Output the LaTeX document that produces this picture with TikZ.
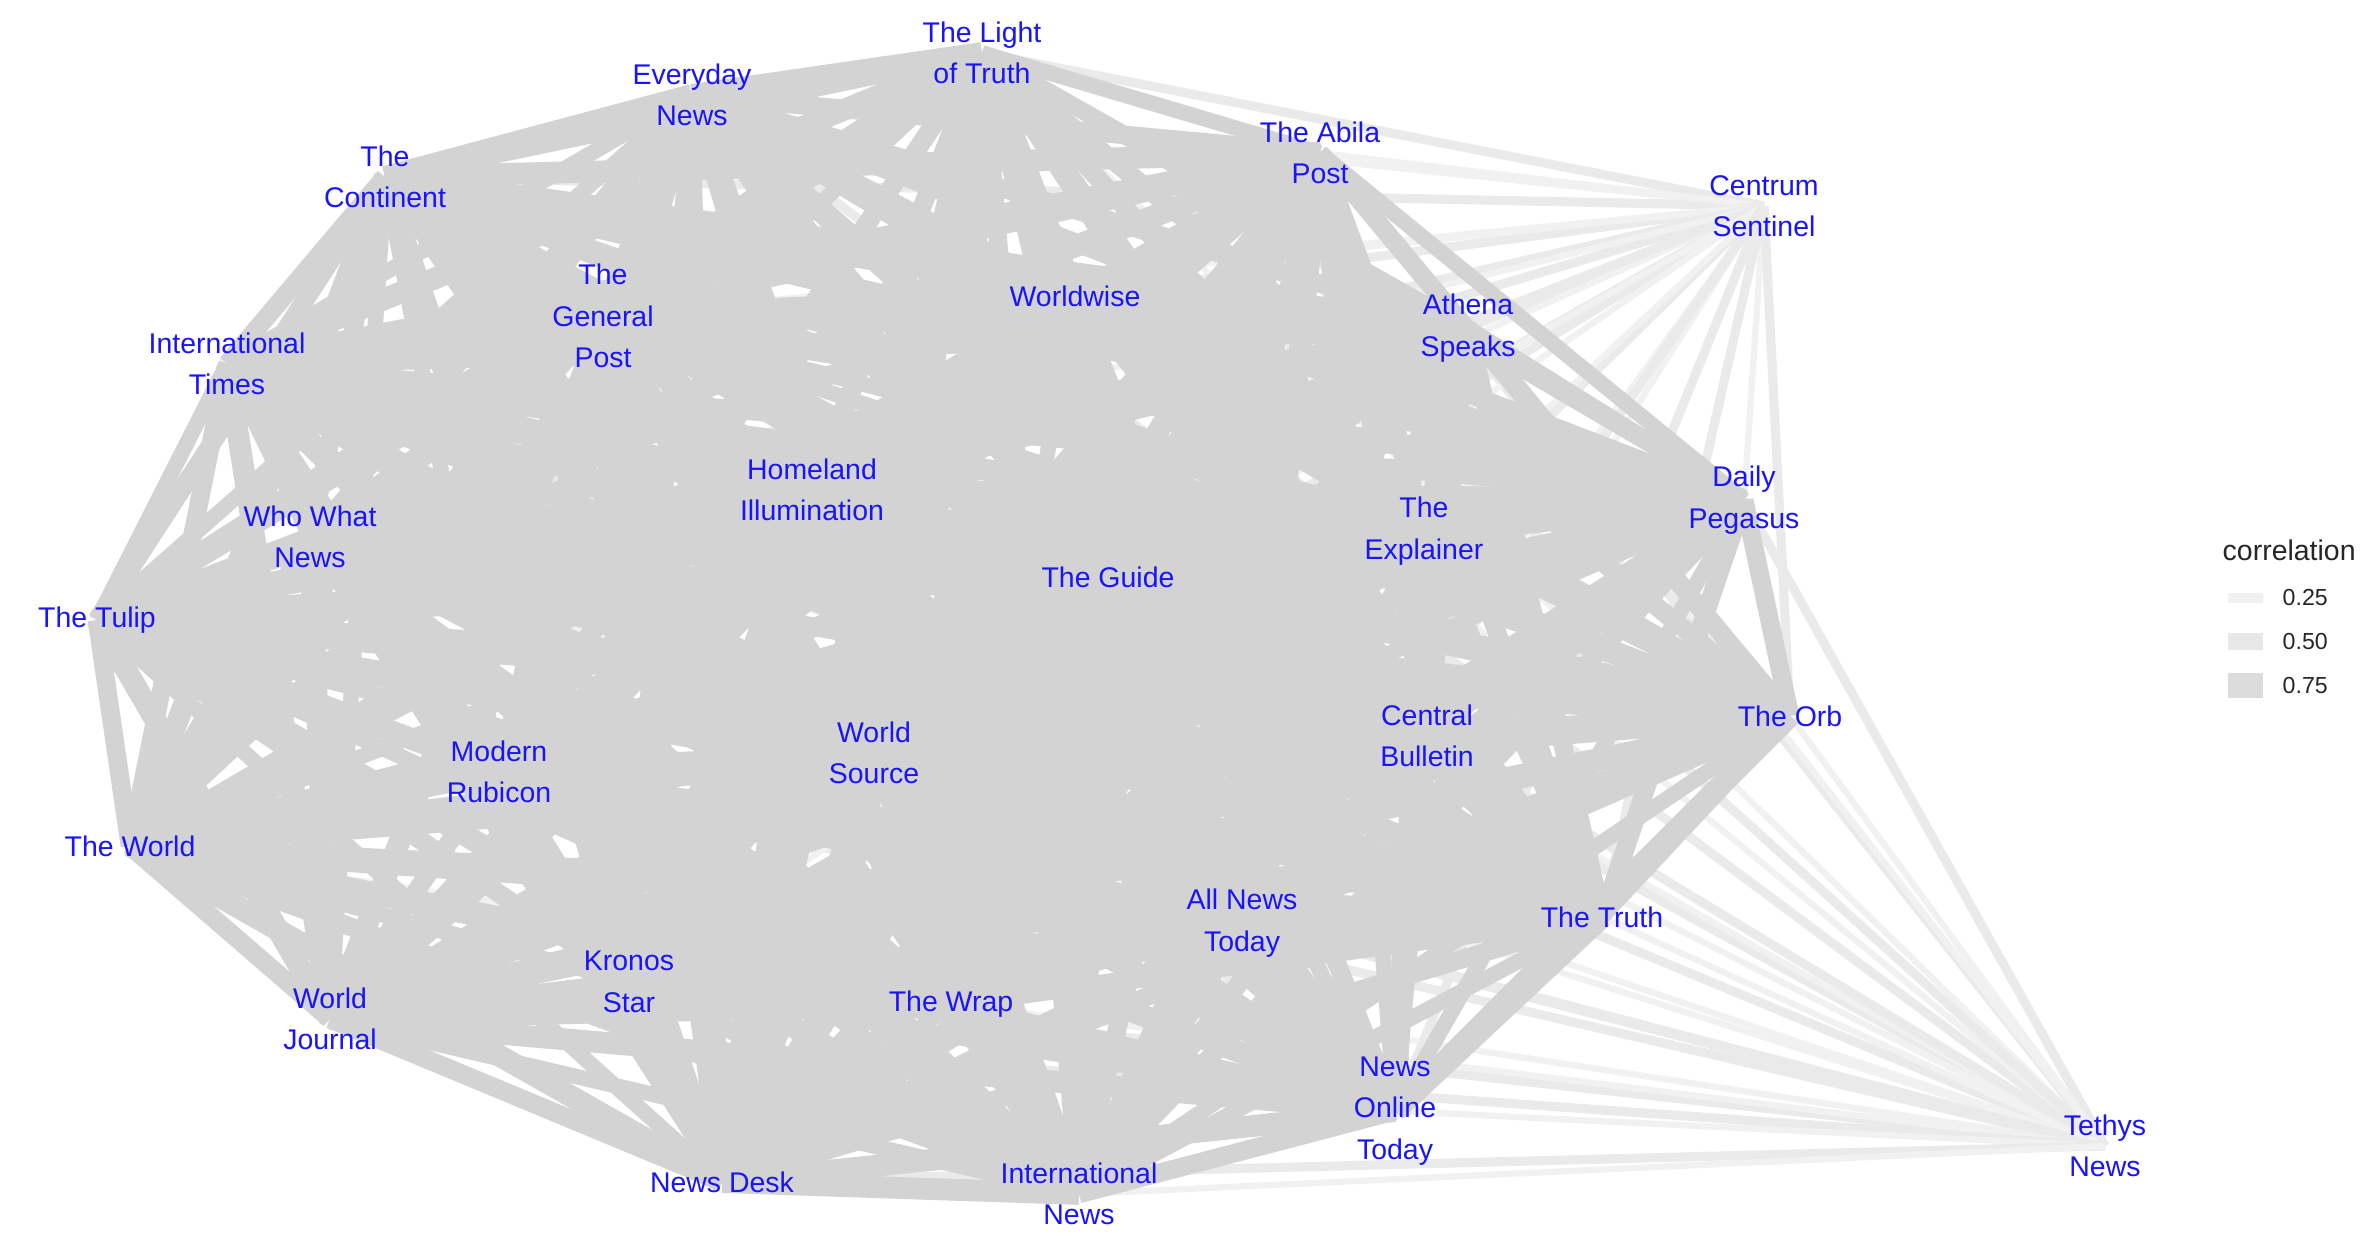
\documentclass[tikz,border=0pt]{standalone}
\usepackage{fontspec}
\setmainfont{Liberation Sans}
\usetikzlibrary{backgrounds}

\definecolor{edgegrey}{RGB}{211,211,211}
\definecolor{edgepale}{RGB}{234,234,234}
\definecolor{edgefaint}{RGB}{241,241,241}
\definecolor{keymid}{RGB}{232,232,232}
\definecolor{keyhigh}{RGB}{220,220,220}
\definecolor{labelblue}{RGB}{25,20,250}

\tikzset{
  paper/.style={font=\fontsize{8.1}{11.8}\selectfont, text=labelblue,
                align=center, inner sep=0pt},
  strongedge/.style={draw=edgegrey, line width=#1},
  weakedge/.style={draw=edgepale, line width=2.6pt},
  faintedge/.style={draw=edgefaint, line width=1.8pt},
  keybox/.style={inner sep=0pt, minimum width=0.35cm},
  keytext/.style={font=\fontsize{6.6}{8}\selectfont, text=black!85, anchor=west, inner sep=0pt}
}

% papers in the tight cluster
\def\mainpapers{lot,evn,con,abi,wwi,gep,ath,int,hom,peg,wwn,exp,gui,tul,orb,
  cbu,wso,mru,two,ant,tru,kro,wra,wjo,not,nde,inn}

\begin{document}
\begin{tikzpicture}[x=1cm, y=1cm, line cap=butt]
  \useasboundingbox (0,0) rectangle (23.70,-12.54);

  % outlet names (edges meet at their centres)
  \node[paper] (lot) at (9.82,-0.53)  {The Light\\of Truth};
  \node[paper] (evn) at (6.92,-0.95)  {Everyday\\News};
  \node[paper] (con) at (3.85,-1.77)  {The\\Continent};
  \node[paper] (abi) at (13.20,-1.53) {The Abila\\Post};
  \node[paper] (cen) at (17.64,-2.06) {Centrum\\Sentinel};
  \node[paper] (wwi) at (10.75,-2.96) {Worldwise};
  \node[paper] (gep) at (6.03,-3.16)  {The\\General\\Post};
  \node[paper] (ath) at (14.68,-3.28) {Athena\\Speaks};
  \node[paper] (int) at (2.27,-3.64)  {International\\Times};
  \node[paper] (hom) at (8.12,-4.90)  {Homeland\\Illumination};
  \node[paper] (peg) at (17.44,-5.00) {Daily\\Pegasus};
  \node[paper] (wwn) at (3.10,-5.37)  {Who What\\News};
  \node[paper] (exp) at (14.24,-5.31) {The\\Explainer};
  \node[paper] (gui) at (11.08,-5.77) {The Guide};
  \node[paper] (tul) at (0.97,-6.20)  {The Tulip};
  \node[paper] (orb) at (17.90,-7.16) {The Orb};
  \node[paper] (cbu) at (14.27,-7.36) {Central\\Bulletin};
  \node[paper] (wso) at (8.74,-7.53)  {World\\Source};
  \node[paper] (mru) at (4.99,-7.72)  {Modern\\Rubicon};
  \node[paper] (two) at (1.30,-8.46)  {The World};
  \node[paper] (ant) at (12.42,-9.23) {All News\\Today};
  \node[paper] (tru) at (16.02,-9.17) {The Truth};
  \node[paper] (kro) at (6.29,-9.82)  {Kronos\\Star};
  \node[paper] (wra) at (9.51,-10.04) {The Wrap};
  \node[paper] (wjo) at (3.30,-10.19) {World\\Journal};
  \node[paper] (not) at (13.95,-11.11) {News\\Online\\Today};
  \node[paper] (tet) at (21.05,-11.46) {Tethys\\News};
  \node[paper] (nde) at (7.22,-11.82) {News Desk};
  \node[paper] (inn) at (10.79,-11.94) {International\\News};

  \begin{scope}[on background layer]
    % low correlations of the two outliers
    \foreach \a [count=\i] in \mainpapers {
      \ifodd\i
        \draw[weakedge] (cen.center) -- (\a.center);
        \draw[faintedge] (tet.center) -- (\a.center);
      \else
        \draw[faintedge] (cen.center) -- (\a.center);
        \draw[weakedge] (tet.center) -- (\a.center);
      \fi
    }
    % high correlations within the cluster
    \foreach \a [count=\i] in \mainpapers {
      \foreach \b [count=\j] in \mainpapers {
        \ifnum\j>\i
          \pgfmathsetmacro\ew{4.4+0.9*mod(\i+2*\j,3)}
          \draw[strongedge=\ew pt] (\a.center) -- (\b.center);
        \fi
      }
    }
  \end{scope}

  % legend
  \node[anchor=west, inner sep=0pt, font=\fontsize{8.1}{10}\selectfont, text=black!85]
    (legtitle) at (22.22,-5.50) {correlation};
  \node[keybox, fill=edgefaint, minimum height=0.10cm] (k25) at (22.45,-5.98) {};
  \node[keybox, fill=keymid,    minimum height=0.17cm] (k50) at (22.45,-6.42) {};
  \node[keybox, fill=keyhigh,   minimum height=0.25cm] (k75) at (22.45,-6.86) {};
  \node[keytext] (t25) at (22.82,-5.98) {0.25};
  \node[keytext] (t50) at (22.82,-6.42) {0.50};
  \node[keytext] (t75) at (22.82,-6.86) {0.75};
\end{tikzpicture}
\end{document}
